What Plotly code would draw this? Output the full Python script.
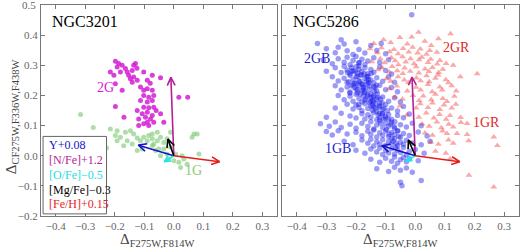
import math
import plotly.graph_objects as go

# ---------------- data ----------------
# NGC3201 first generation (1G)
g1_x = [-0.316, -0.273, -0.228, -0.215, -0.192, -0.198, -0.181, -0.164, -0.147, -0.136,
        -0.158, -0.170, -0.141, -0.124, -0.113, -0.102, -0.085, -0.090, -0.073, -0.068,
        -0.056, -0.045, -0.034, -0.023, -0.011, -0.034, -0.051, -0.023, 0.000, 0.017,
        0.034, 0.028, 0.006, 0.045, 0.062, 0.079, 0.068, 0.085, -0.107, -0.124,
        -0.073, -0.192, -0.056, -0.011, -0.045, -0.017, 0.023, -0.073, -0.062]
g1_y = [0.137, 0.094, 0.026, 0.089, 0.083, 0.067, 0.061, 0.078, 0.083, 0.072,
        0.050, 0.033, 0.039, 0.059, 0.050, 0.061, 0.067, 0.050, 0.056, 0.039,
        0.050, 0.061, 0.044, 0.056, 0.028, 0.022, 0.022, 0.006, -0.017, -0.022,
        -0.011, 0.000, 0.006, -0.028, 0.061, 0.072, 0.072, 0.006, 0.022, 0.017,
        0.072, 0.050, 0.078, 0.078, 0.000, -0.011, -0.039, 0.033, 0.017]
# NGC3201 second generation (2G)
g2_x = [-0.198, -0.187, -0.192, -0.175, -0.164, -0.215, -0.203, -0.181, -0.158, -0.141,
        -0.136, -0.130, -0.153, -0.136, -0.124, -0.141, -0.102, -0.073, -0.045, -0.090,
        -0.198, -0.175, -0.113, -0.102, -0.090, -0.073, -0.102, -0.085, -0.068, -0.113,
        -0.090, -0.073, 0.017, -0.198, -0.102, -0.085, -0.068, -0.124, -0.107, -0.090,
        -0.073, -0.169, -0.119, -0.096, -0.079, -0.090, -0.102, -0.119, -0.085, -0.068,
        -0.045, -0.034, 0.047, -0.125, -0.147, -0.080, -0.060]
g2_y = [0.313, 0.306, 0.294, 0.300, 0.289, 0.278, 0.267, 0.278, 0.278, 0.283,
        0.300, 0.306, 0.267, 0.261, 0.250, 0.244, 0.278, 0.267, 0.259, 0.250,
        0.239, 0.217, 0.228, 0.217, 0.222, 0.217, 0.200, 0.194, 0.200, 0.183,
        0.178, 0.183, 0.194, 0.163, 0.161, 0.159, 0.161, 0.150, 0.139, 0.144,
        0.133, 0.128, 0.122, 0.128, 0.122, 0.111, 0.106, 0.100, 0.100, 0.111,
        0.139, 0.111, 0.194, 0.290, 0.255, 0.240, 0.150]

# NGC5286 blue RGB (1GB + 2GB)
blue_x = [-0.012,
          -0.33, -0.25, -0.24, -0.20, -0.15, -0.115,
          -0.30, -0.27, -0.26, -0.23, -0.21, -0.19, -0.17, -0.13, -0.10,
          -0.31, -0.28, -0.26, -0.24, -0.23, -0.22, -0.21, -0.20, -0.19, -0.18, -0.17, -0.16, -0.14, -0.12, -0.09,
          -0.30, -0.27, -0.25, -0.24, -0.23, -0.22, -0.215, -0.21, -0.20, -0.195, -0.19, -0.18, -0.17, -0.16, -0.15, -0.14, -0.12, -0.10, -0.08,
          -0.28, -0.26, -0.24, -0.23, -0.22, -0.21, -0.205, -0.20, -0.19, -0.185, -0.18, -0.17, -0.165, -0.16, -0.15, -0.14, -0.13, -0.11, -0.09, -0.07,
          -0.27, -0.25, -0.23, -0.22, -0.21, -0.20, -0.195, -0.19, -0.18, -0.175, -0.17, -0.16, -0.155, -0.15, -0.14, -0.13, -0.12, -0.10, -0.08, -0.06,
          -0.26, -0.24, -0.22, -0.21, -0.20, -0.19, -0.18, -0.175, -0.17, -0.16, -0.155, -0.15, -0.145, -0.14, -0.13, -0.12, -0.11, -0.09, -0.07, -0.05,
          -0.27, -0.23, -0.21, -0.20, -0.19, -0.18, -0.17, -0.16, -0.15, -0.145, -0.14, -0.135, -0.13, -0.12, -0.11, -0.10, -0.08, -0.06, -0.04,
          -0.30, -0.25, -0.22, -0.20, -0.18, -0.17, -0.16, -0.15, -0.14, -0.13, -0.125, -0.12, -0.11, -0.10, -0.09, -0.08, -0.06, -0.04, -0.02,
          -0.32, -0.29, -0.27, -0.25, -0.22, -0.20, -0.18, -0.16, -0.15, -0.14, -0.13, -0.12, -0.11, -0.10, -0.09, -0.08, -0.07, -0.05, -0.03, -0.01, 0.02,
          -0.30, -0.28, -0.26, -0.23, -0.20, -0.18, -0.16, -0.15, -0.14, -0.13, -0.12, -0.11, -0.10, -0.09, -0.08, -0.07, -0.06, -0.05, -0.04, -0.02, 0.01, 0.04,
          -0.24, -0.21, -0.18, -0.16, -0.15, -0.14, -0.13, -0.12, -0.11, -0.10, -0.09, -0.08, -0.07, -0.06, -0.05, -0.04, -0.03, -0.01, 0.02, 0.05,
          -0.20, -0.17, -0.15, -0.13, -0.12, -0.11, -0.10, -0.09, -0.08, -0.07, -0.06, -0.05, -0.04, -0.03, -0.02, 0.00, 0.03,
          -0.15, -0.12, -0.10, -0.08, -0.07, -0.06, -0.05, -0.04, -0.03, -0.02, 0.01,
          -0.13, -0.09, -0.07, -0.05, -0.03, -0.01,
          -0.05, -0.045, 0.02,
          -0.225, -0.214, -0.206, -0.196, -0.190, -0.179, -0.171, -0.158, -0.151, -0.139, -0.127, -0.121,
          -0.203, -0.195, -0.187, -0.172, -0.168, -0.153, -0.144, -0.133, -0.128, -0.112, -0.108, -0.094, -0.088, -0.071, -0.066,
          -0.216, -0.190, -0.185, -0.169, -0.163, -0.149, -0.143, -0.131, -0.118, -0.117, -0.101, -0.097, -0.079, -0.069, -0.064, -0.056,
          -0.229, -0.221, -0.199, -0.191, -0.181, -0.176, -0.161, -0.157, -0.141, -0.136, -0.122, -0.111, -0.106, -0.091, -0.083, -0.075, -0.059]
blue_y = [0.468,
          0.372, 0.385, 0.371, 0.378, 0.366, 0.372,
          0.355, 0.342, 0.360, 0.348, 0.336, 0.352, 0.341, 0.349, 0.338,
          0.318, 0.305, 0.322, 0.310, 0.327, 0.302, 0.316, 0.329, 0.308, 0.320, 0.303, 0.314, 0.325, 0.309, 0.318,
          0.280, 0.292, 0.276, 0.297, 0.284, 0.271, 0.293, 0.281, 0.295, 0.274, 0.287, 0.279, 0.292, 0.272, 0.286, 0.277, 0.294, 0.283, 0.271,
          0.262, 0.248, 0.257, 0.243, 0.266, 0.252, 0.241, 0.262, 0.249, 0.268, 0.238, 0.256, 0.245, 0.263, 0.251, 0.242, 0.259, 0.247, 0.262, 0.244,
          0.232, 0.218, 0.228, 0.211, 0.236, 0.221, 0.208, 0.233, 0.216, 0.228, 0.212, 0.238, 0.220, 0.205, 0.229, 0.215, 0.234, 0.219, 0.226, 0.212,
          0.200, 0.186, 0.197, 0.181, 0.204, 0.190, 0.178, 0.199, 0.185, 0.203, 0.176, 0.192, 0.183, 0.198, 0.187, 0.174, 0.195, 0.181, 0.192, 0.178,
          0.158, 0.171, 0.155, 0.168, 0.160, 0.149, 0.172, 0.157, 0.166, 0.151, 0.162, 0.174, 0.147, 0.165, 0.154, 0.169, 0.158, 0.148, 0.163,
          0.128, 0.141, 0.132, 0.125, 0.139, 0.122, 0.136, 0.128, 0.143, 0.119, 0.134, 0.126, 0.141, 0.124, 0.137, 0.121, 0.133, 0.126, 0.138,
          0.106, 0.098, 0.112, 0.094, 0.104, 0.091, 0.108, 0.097, 0.113, 0.089, 0.102, 0.116, 0.093, 0.107, 0.098, 0.111, 0.091, 0.103, 0.095, 0.108, 0.099,
          0.080, 0.069, 0.083, 0.072, 0.078, 0.066, 0.081, 0.070, 0.085, 0.062, 0.076, 0.068, 0.082, 0.064, 0.077, 0.070, 0.083, 0.061, 0.074, 0.067, 0.079, 0.065,
          0.048, 0.036, 0.052, 0.041, 0.055, 0.032, 0.046, 0.038, 0.053, 0.035, 0.047, 0.040, 0.056, 0.033, 0.045, 0.038, 0.051, 0.042, 0.036, 0.048,
          0.018, 0.008, 0.022, 0.012, 0.026, 0.004, 0.017, 0.009, 0.024, 0.006, 0.019, 0.011, 0.027, 0.003, 0.015, 0.021, 0.008,
          -0.012, -0.022, -0.008, -0.018, -0.004, -0.025, -0.013, -0.006, -0.020, -0.010, -0.017,
          -0.043, -0.052, -0.038, -0.048, -0.041, -0.055,
          -0.088, -0.100, -0.082,
          0.245, 0.281, 0.226, 0.263, 0.298, 0.237, 0.209, 0.252, 0.181, 0.214, 0.193, 0.141,
          0.279, 0.219, 0.246, 0.272, 0.188, 0.231, 0.167, 0.158, 0.205, 0.176, 0.122, 0.149, 0.071, 0.096, 0.028,
          0.232, 0.308, 0.205, 0.226, 0.262, 0.273, 0.196, 0.234, 0.188, 0.108, 0.131, 0.087, 0.058, 0.113, 0.041, 0.064,
          0.276, 0.208, 0.239, 0.171, 0.268, 0.221, 0.197, 0.243, 0.179, 0.226, 0.162, 0.139, 0.158, 0.121, 0.104, 0.048, 0.082]

# NGC5286 red RGB (1GR + 2GR)
red_x = [-0.14, -0.107, -0.083, -0.052, -0.027, -0.012, 0.011, 0.032, 0.054, 0.078, 0.119,
         -0.153, -0.128, -0.114, -0.087, -0.072, -0.058, -0.041, -0.022, -0.009, 0.008, 0.017, 0.038, 0.049, 0.073,
         -0.147, -0.118, -0.103, -0.081, -0.068, -0.057, -0.043, -0.032, -0.016, -0.004, 0.013, 0.022, 0.043, 0.052, 0.074, 0.083, 0.104, 0.128,
         -0.126, -0.112, -0.088, -0.078, -0.061, -0.042, -0.036, -0.017, 0.003, 0.012, 0.033, 0.046, 0.058, 0.079, 0.093, 0.209,
         -0.097, -0.083, -0.058, -0.037, -0.023, 0.004, 0.018, 0.038, 0.047, 0.068, 0.077, 0.103, 0.112, 0.152,
         -0.088, -0.062, -0.027, 0.003, 0.018, 0.043, 0.057, 0.083, 0.091, 0.123, 0.138,
         -0.068, -0.043, -0.008, 0.013, 0.027, 0.054, 0.068, 0.093, 0.107, 0.132,
         -0.052, 0.003, 0.017, 0.043, 0.058, 0.083, 0.097, 0.123, 0.137,
         -0.028, 0.012, 0.037, 0.063, 0.082, 0.104, 0.117, 0.153, 0.175,
         0.023, 0.047, 0.073, 0.088, 0.113, 0.128, 0.154,
         0.033, 0.058, 0.092, 0.107, 0.141, 0.175, 0.265,
         0.052, 0.078, 0.112, 0.128, 0.180, 0.277,
         0.068, 0.103, 0.118, 0.181, 0.265]
red_y = [0.372, 0.385, 0.376, 0.392, 0.371, 0.394, 0.410, 0.380, 0.366, 0.388, 0.405,
         0.355, 0.342, 0.358, 0.345, 0.352, 0.338, 0.356, 0.344, 0.360, 0.341, 0.354, 0.337, 0.349, 0.343,
         0.312, 0.322, 0.308, 0.325, 0.315, 0.302, 0.328, 0.311, 0.322, 0.305, 0.318, 0.327, 0.309, 0.320, 0.304, 0.316, 0.306, 0.300,
         0.285, 0.292, 0.278, 0.296, 0.282, 0.273, 0.291, 0.280, 0.295, 0.274, 0.288, 0.279, 0.293, 0.276, 0.287, 0.272,
         0.255, 0.247, 0.262, 0.251, 0.243, 0.258, 0.249, 0.265, 0.245, 0.257, 0.268, 0.252, 0.242, 0.262,
         0.222, 0.231, 0.215, 0.227, 0.218, 0.236, 0.212, 0.228, 0.218, 0.232, 0.215,
         0.195, 0.188, 0.200, 0.183, 0.198, 0.186, 0.204, 0.190, 0.180, 0.197,
         0.165, 0.158, 0.172, 0.160, 0.175, 0.153, 0.168, 0.158, 0.171,
         0.135, 0.128, 0.142, 0.125, 0.137, 0.121, 0.133, 0.127, 0.107,
         0.105, 0.098, 0.112, 0.093, 0.104, 0.095, 0.110,
         0.075, 0.068, 0.082, 0.074, 0.074, 0.070, 0.062,
         0.045, 0.038, 0.052, 0.041, 0.050, 0.034,
         0.015, 0.008, -0.010, -0.065, -0.104]

# abundance-variation vectors (tip of arrow from origin): Y, [N/Fe], [O/Fe], [Mg/Fe], [Fe/H]
vec_names = ["Y+0.08", "[N/Fe]+1.2", "[O/Fe]\u22120.5", "[Mg/Fe]\u22120.3", "[Fe/H]+0.15"]
vec_colors = ["#1414c8", "#b41e96", "#1ee6e6", "#000000", "#e61e1e"]
vec3201_dx = [-0.120, -0.010, -0.032, -0.020, 0.155]
vec3201_dy = [0.035, 0.260, -0.020, 0.055, -0.020]
vec5286_dx = [-0.113, -0.011, -0.030, -0.023, 0.150]
vec5286_dy = [0.033, 0.261, -0.018, 0.052, -0.020]

x_ticks = [-0.4, -0.3, -0.2, -0.1, 0.0, 0.1, 0.2, 0.3]
y_ticks = [-0.2, -0.1, 0.0, 0.1, 0.2, 0.3, 0.4, 0.5]
X_RANGE = [-0.45, 0.35]
Y_RANGE = [-0.2, 0.5]

assert len(blue_x) == len(blue_y) and len(red_x) == len(red_y)
assert len(g1_x) == len(g1_y) and len(g2_x) == len(g2_y)


def fmt(v):
    s = f"{v:.1f}"
    return s.replace("-", "\u2212")


# ---------------- figure ----------------
W, H = 520, 248
M = dict(l=41, r=1, t=5, b=32)
DOM1 = [0.0, 0.494]
DOM2 = [0.504, 1.0]
SERIF = "Liberation Serif"
TICK_FONT = dict(family=SERIF, size=11, color="#666")

fig = go.Figure()

fig.add_trace(go.Scatter(x=g1_x, y=g1_y, mode="markers", xaxis="x", yaxis="y",
                         marker=dict(size=5, color="rgb(120,200,110)", opacity=0.6, line=dict(width=0)),
                         showlegend=False, hoverinfo="skip"))
fig.add_trace(go.Scatter(x=g2_x, y=g2_y, mode="markers", xaxis="x", yaxis="y",
                         marker=dict(size=5, color="rgb(210,30,210)", opacity=0.85, line=dict(width=0)),
                         showlegend=False, hoverinfo="skip"))
fig.add_trace(go.Scatter(x=blue_x, y=blue_y, mode="markers", xaxis="x2", yaxis="y2",
                         marker=dict(size=5.5, color="rgb(20,20,235)", opacity=0.42, line=dict(width=0)),
                         showlegend=False, hoverinfo="skip"))
fig.add_trace(go.Scatter(x=red_x, y=red_y, mode="markers", xaxis="x2", yaxis="y2",
                         marker=dict(size=6, symbol="triangle-up", color="rgb(240,50,50)", opacity=0.42,
                                     line=dict(width=0)),
                         showlegend=False, hoverinfo="skip"))

# arrow scale: pixels per data unit
pw = W - M["l"] - M["r"]
ph = H - M["t"] - M["b"]
xs = pw * (DOM1[1] - DOM1[0]) / (X_RANGE[1] - X_RANGE[0])
ys = ph / (Y_RANGE[1] - Y_RANGE[0])


def add_arrows(dxs, dys, xa, ya):
    for dx, dy, col in zip(dxs, dys, vec_colors):
        px, py = dx * xs, dy * ys
        L = math.hypot(px, py)
        ux, uy = px / L, py / L
        hl = min(9.0, 0.6 * L)
        hx, hy = [], []
        for ang in (0.45, -0.45):
            c, s = math.cos(ang), math.sin(ang)
            bx = -(ux * c - uy * s) * hl
            by = -(ux * s + uy * c) * hl
            hx.append(dx + bx / xs)
            hy.append(dy + by / ys)
        fig.add_trace(go.Scatter(x=[0, dx, None, hx[0], dx, hx[1]],
                                 y=[0, dy, None, hy[0], dy, hy[1]],
                                 mode="lines", xaxis=xa, yaxis=ya,
                                 line=dict(color=col, width=1.6),
                                 showlegend=False, hoverinfo="skip"))


add_arrows(vec3201_dx, vec3201_dy, "x", "y")
add_arrows(vec5286_dx, vec5286_dy, "x2", "y2")

# y tick labels: the top one is written as an annotation (the axis drops it at the page edge)
y_ticktext = [fmt(v) for v in y_ticks[:-1]] + [""]

axis_common = dict(range=X_RANGE, tickvals=x_ticks, tickformat=".1f", ticks="inside", ticklen=4,
                   tickcolor="#777", tickwidth=1, showline=True, linecolor="#777", linewidth=1,
                   mirror="ticks", showgrid=False, zeroline=False,
                   tickfont=TICK_FONT)
yaxis_common = dict(range=Y_RANGE, tickvals=y_ticks, ticktext=y_ticktext, ticks="inside", ticklen=4,
                    tickcolor="#777", tickwidth=1, showline=True, linecolor="#777", linewidth=1,
                    mirror="ticks", showgrid=False, zeroline=False,
                    tickfont=TICK_FONT)

fig.update_layout(
    width=W, height=H, margin=M, paper_bgcolor="white", plot_bgcolor="white",
    xaxis=dict(domain=DOM1, anchor="y", **axis_common),
    yaxis=dict(domain=[0, 1], anchor="x", **yaxis_common),
    xaxis2=dict(domain=DOM2, anchor="y2", **axis_common),
    yaxis2=dict(domain=[0, 1], anchor="x2", showticklabels=False, **yaxis_common),
)

fig.add_annotation(x=-0.006, y=y_ticks[-1], xref="paper", yref="y", text=fmt(y_ticks[-1]),
                   showarrow=False, xanchor="right", yanchor="middle", font=TICK_FONT)

# legend box for vectors (left panel)
fig.add_shape(type="rect", xref="x", yref="y", x0=-0.443, x1=-0.228, y0=-0.193, y1=0.064,
              line=dict(color="#666", width=1), fillcolor="white", layer="above")
leg_y = [0.034, -0.015, -0.064, -0.113, -0.161]
for name, col, yy in zip(vec_names, vec_colors, leg_y):
    fig.add_annotation(x=-0.428, y=yy, xref="x", yref="y", text=name, showarrow=False,
                       xanchor="left", yanchor="middle",
                       font=dict(family=SERIF, size=12, color=col if col != "#1ee6e6" else "#22dddd"))

# panel titles and group labels
fig.add_annotation(x=-0.418, y=0.445, xref="x", yref="y", text="NGC3201", showarrow=False,
                   xanchor="left", yanchor="middle", font=dict(family=SERIF, size=16, color="black"))
fig.add_annotation(x=-0.418, y=0.445, xref="x2", yref="y2", text="NGC5286", showarrow=False,
                   xanchor="left", yanchor="middle", font=dict(family=SERIF, size=16, color="black"))
group_labels = [("2G", -0.232, 0.226, "x", "y", "rgb(210,30,210)"),
                ("1G", 0.068, -0.050, "x", "y", "rgb(140,200,120)"),
                ("2GB", -0.330, 0.323, "x2", "y2", "rgb(30,30,200)"),
                ("1GB", -0.262, 0.024, "x2", "y2", "rgb(30,30,200)"),
                ("2GR", 0.140, 0.360, "x2", "y2", "rgb(225,40,40)"),
                ("1GR", 0.240, 0.110, "x2", "y2", "rgb(225,40,40)")]
for txt, xx, yy, xa, ya, col in group_labels:
    fig.add_annotation(x=xx, y=yy, xref=xa, yref=ya, text=txt, showarrow=False,
                       font=dict(family=SERIF, size=14, color=col))

# axis titles
for cx in ((DOM1[0] + DOM1[1]) / 2 - 0.004, (DOM2[0] + DOM2[1]) / 2):
    fig.add_annotation(x=cx, y=-0.112, xref="paper", yref="paper",
                       text="\u0394<sub>F275W,F814W</sub>", showarrow=False,
                       xanchor="center", yanchor="middle",
                       font=dict(family=SERIF, size=15, color="#444"))
fig.add_annotation(x=-0.062, y=0.47, xref="paper", yref="paper",
                   text="\u0394<sub>CF275W,F336W,F438W</sub>", showarrow=False, textangle=-90,
                   xanchor="center", yanchor="middle",
                   font=dict(family=SERIF, size=15, color="#444"))

fig.write_html("out.html", config={"displayModeBar": False},
               post_script="document.body.style.margin='0';document.body.style.overflow='hidden';")
